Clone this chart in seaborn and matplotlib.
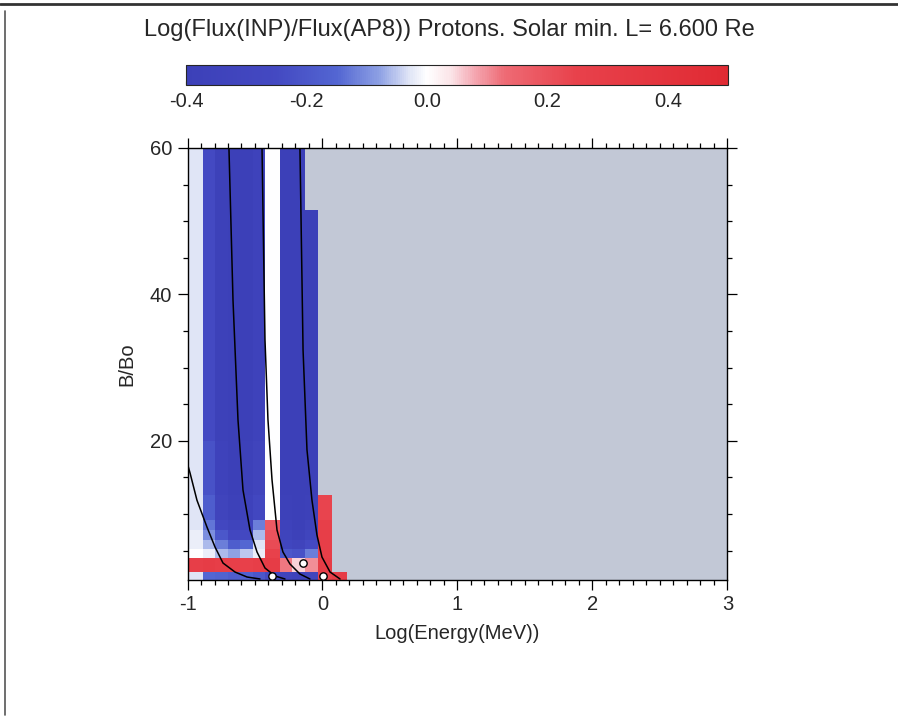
import numpy as np
import matplotlib
matplotlib.use("Agg")
import matplotlib.pyplot as plt
from matplotlib.colors import LinearSegmentedColormap, Normalize
from matplotlib.lines import Line2D
from matplotlib.ticker import MultipleLocator
import seaborn as sns

# ---------------------------------------------------------------- data
# bin edges: log10(E / MeV) and B/Bo
log_energy_edges = [-1.0, -0.885, -0.796, -0.700, -0.611, -0.515, -0.426,
                    -0.315, -0.226, -0.130, -0.033, 0.070, 0.180, 3.0]
b_ratio_edges = [1.0, 2.1, 4.0, 5.2, 6.5, 7.8, 9.2, 12.6, 20.0, 51.5, 60.0]

nan = np.nan
# log10(flux INP / flux AP8), one list per B/Bo bin (bottom to top);
# NaN where the ratio is undefined
ratio_b01 = [-0.03, -0.15, -0.16, -0.18, -0.17, -0.20, -0.25, -0.33, -0.36, -0.32, 0.25, 0.30, nan]
ratio_b02 = [0.28, 0.30, 0.28, 0.27, 0.26, 0.28, 0.30, 0.12, 0.05, 0.10, 0.30, nan, nan]
ratio_b03 = [0.00, -0.02, -0.06, -0.08, -0.05, -0.02, 0.25, -0.20, -0.22, -0.12, 0.28, nan, nan]
ratio_b04 = [-0.02, -0.06, -0.12, -0.18, -0.15, -0.03, 0.22, -0.30, -0.33, -0.25, 0.28, nan, nan]
ratio_b05 = [-0.02, -0.10, -0.20, -0.28, -0.26, -0.06, 0.20, -0.34, -0.38, -0.32, 0.28, nan, nan]
ratio_b06 = [-0.03, -0.13, -0.28, -0.34, -0.32, -0.12, 0.18, -0.36, -0.40, -0.35, 0.27, nan, nan]
ratio_b07 = [-0.03, -0.18, -0.33, -0.38, -0.36, -0.28, 0.00, -0.38, -0.42, -0.38, 0.24, nan, nan]
ratio_b08 = [-0.03, -0.22, -0.36, -0.40, -0.38, -0.33, 0.00, -0.40, -0.42, -0.40, nan, nan, nan]
ratio_b09 = [-0.03, -0.25, -0.38, -0.42, -0.40, -0.36, 0.00, -0.42, -0.44, -0.42, nan, nan, nan]
ratio_b10 = [-0.03, -0.25, -0.38, -0.42, -0.40, -0.36, 0.00, -0.42, -0.44, nan, nan, nan, nan]

# reference curves (log E, B/Bo)
curve1_loge = [-1.0, -0.981, -0.930, -0.856, -0.796, -0.737, -0.648, -0.559, -0.463]
curve1_b = [16.85, 15.6, 11.9, 8.24, 5.5, 3.32, 2.09, 1.41, 1.14]
curve2_loge = [-0.693, -0.663, -0.626, -0.589, -0.537, -0.485, -0.426, -0.352, -0.278]
curve2_b = [60.0, 39.25, 22.86, 13.3, 7.83, 4.83, 2.64, 1.55, 1.14]
curve3_loge = [-0.448, -0.426, -0.404, -0.374, -0.337, -0.293, -0.241, -0.167, -0.093]
curve3_b = [60.0, 33.8, 22.9, 14.7, 7.83, 4.83, 3.19, 1.82, 1.14]
curve4_loge = [-0.167, -0.144, -0.115, -0.078, -0.041, -0.004, 0.056, 0.130]
curve4_b = [60.0, 32.4, 18.8, 11.9, 7.15, 4.14, 2.09, 1.14]
marker_loge = [-0.144, -0.374, 0.004]
marker_b = [3.32, 1.55, 1.55]

cbar_ticks = [-0.4, -0.2, 0.0, 0.2, 0.4]
title = "Log(Flux(INP)/Flux(AP8)) Protons. Solar min. L= 6.600 Re"

# ---------------------------------------------------------------- style
sns.set_theme(style="ticks")
plt.rcParams["font.family"] = ["Liberation Sans", "DejaVu Sans"]
FS = 14.5

ratio = np.array([ratio_b01, ratio_b02, ratio_b03, ratio_b04, ratio_b05,
                  ratio_b06, ratio_b07, ratio_b08, ratio_b09, ratio_b10])

cmap = LinearSegmentedColormap.from_list("bwr_flux", [
    (0.0, "#3c40b8"), (0.1667, "#4449c2"), (0.2778, "#5366d2"),
    (0.3556, "#8da0e4"), (0.4111, "#dfe4f6"), (0.4444, "#ffffff"),
    (0.4889, "#fbe4e8"), (0.5333, "#f4a6b0"), (0.5889, "#ee6a74"),
    (0.7222, "#e8414b"), (1.0, "#e02a33")])
cmap.set_bad("#c2c8d6")
norm = Normalize(vmin=-0.4, vmax=0.5)

fig = plt.figure(figsize=(8.98, 7.19), dpi=100)
ax = fig.add_axes([0.2088, 0.1933, 0.6013, 0.6009])

mesh = ax.pcolormesh(log_energy_edges, b_ratio_edges,
                     np.ma.masked_invalid(ratio), cmap=cmap, norm=norm,
                     shading="flat")

for xs, ys in [(curve1_loge, curve1_b), (curve2_loge, curve2_b),
               (curve3_loge, curve3_b), (curve4_loge, curve4_b)]:
    sns.lineplot(x=xs, y=ys, sort=False, estimator=None, color="black",
                 linewidth=1.1, ax=ax)
sns.scatterplot(x=marker_loge, y=marker_b, s=28, facecolor="white",
                edgecolor="black", linewidth=1.0, ax=ax, zorder=5)

ax.set_xlim(-1, 3)
ax.set_ylim(1, 60)
ax.set_xticks([-1, 0, 1, 2, 3])
ax.set_xticklabels(["-1", "0", "1", "2", "3"])
ax.set_yticks([20, 40, 60])
ax.xaxis.set_minor_locator(MultipleLocator(0.1))
ax.yaxis.set_minor_locator(MultipleLocator(5))
ax.tick_params(which="both", direction="out", top=True, right=True,
               color="black", width=0.9, labelsize=FS, pad=4)
ax.tick_params(which="major", length=7)
ax.tick_params(which="minor", length=3.5)
for s in ax.spines.values():
    s.set_visible(True)
    s.set_color("black")
    s.set_linewidth(1.0)
ax.set_xlabel("Log(Energy(MeV))", fontsize=FS, labelpad=7)
ax.set_ylabel("B/Bo", fontsize=FS, labelpad=10)

# colour bar
cax = fig.add_axes([0.2071, 0.8818, 0.6036, 0.0278])
cb = fig.colorbar(mesh, cax=cax, orientation="horizontal", ticks=cbar_ticks)
cb.ax.set_xticklabels([f"{t:.1f}" for t in cbar_ticks])
cb.ax.tick_params(labelsize=FS, length=3, direction="in", pad=5, width=0.8)
cb.outline.set_linewidth(0.8)

fig.text(0.5, 0.958, title, ha="center", va="center", fontsize=17)

# page frame lines
fig.add_artist(Line2D([0.0, 1.0], [0.994, 0.994], color="#333333", lw=2.0,
                      transform=fig.transFigure))
fig.add_artist(Line2D([0.006, 0.006], [0.005, 0.985], color="#555555", lw=1.2,
                      transform=fig.transFigure))

fig.savefig("out.png", dpi=100)
